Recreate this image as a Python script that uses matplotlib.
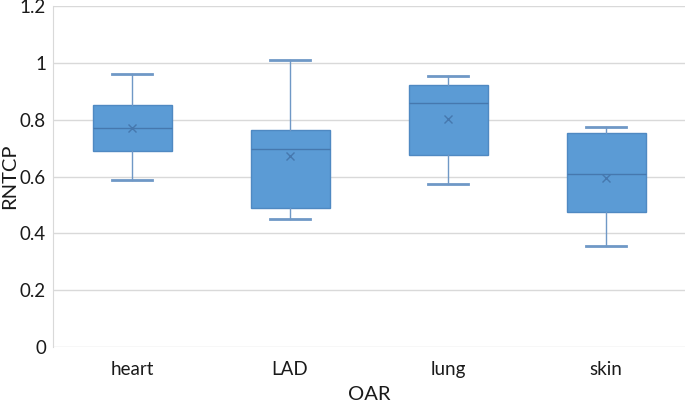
import matplotlib
matplotlib.use("Agg")
import matplotlib.pyplot as plt

categories = ["heart", "LAD", "lung", "skin"]
whislo = [0.589, 0.451, 0.574, 0.356]
q1 = [0.690, 0.490, 0.677, 0.474]
med = [0.772, 0.696, 0.858, 0.610]
q3 = [0.852, 0.764, 0.922, 0.754]
whishi = [0.961, 1.011, 0.955, 0.776]
means = [0.772, 0.672, 0.803, 0.596]

plt.rcParams['font.family'] = ['Lato', 'DejaVu Sans']

fig = plt.figure(figsize=(6.85, 4.03), dpi=100)
ax = fig.add_axes([0.0774, 0.139, 0.9226, 0.846])

stats = [dict(label=c, whislo=a, q1=b, med=m, q3=d, whishi=e, mean=mu, fliers=[])
         for c, a, b, m, d, e, mu in zip(categories, whislo, q1, med, q3, whishi, means)]

ax.bxp(stats, positions=[0.5, 1.5, 2.5, 3.5], widths=0.5, patch_artist=True, showmeans=True,
       boxprops=dict(facecolor='#5B9BD5', edgecolor='#4F89C2', lw=1),
       medianprops=dict(color='#4678AE', lw=1),
       whiskerprops=dict(color='#6F98C6', lw=1),
       capprops=dict(color='#6F98C6', lw=2),
       meanprops=dict(marker='x', markeredgecolor='#4678AE', markersize=6, markeredgewidth=1))

ax.set_xlim(0, 4)
ax.set_ylim(0, 1.2)
ax.set_yticks([0, 0.2, 0.4, 0.6, 0.8, 1, 1.2])
ax.set_yticklabels(['0', '0.2', '0.4', '0.6', '0.8', '1', '1.2'])
ax.set_xticks([0.5, 1.5, 2.5, 3.5])
ax.set_xticklabels(categories)
ax.tick_params(axis='y', length=0, labelsize=13.5, colors='#1a1a1a', pad=5)
ax.tick_params(axis='x', length=0, labelsize=13.5, colors='#1a1a1a', pad=10)
ax.yaxis.grid(True, color='#D9D9D9', lw=1)
ax.set_axisbelow(True)
for s in ['top', 'right', 'bottom']:
    ax.spines[s].set_visible(False)
ax.spines['left'].set_color('#D9D9D9')
ax.set_xlabel('OAR', fontsize=14.5, color='#1a1a1a', va='center')
ax.xaxis.set_label_coords(0.5, -0.138)
ax.set_ylabel('RNTCP', fontsize=14.5, color='#1a1a1a', va='center')
ax.yaxis.set_label_coords(-0.069, 0.5)

fig.savefig('out.png')
